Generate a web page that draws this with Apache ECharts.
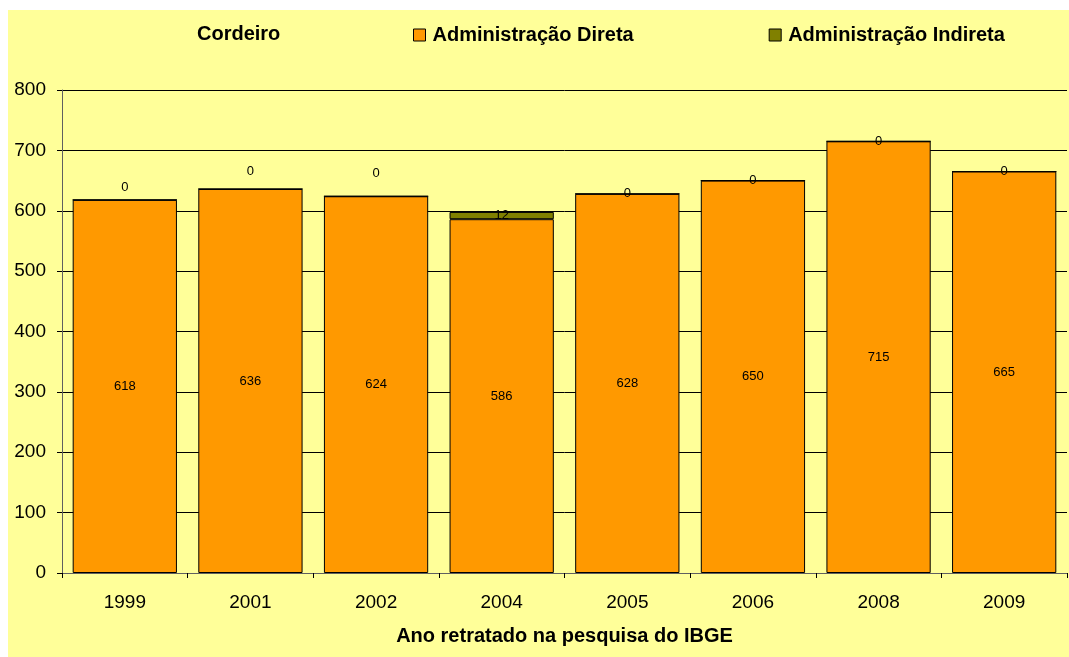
<!DOCTYPE html>
<html>
<head>
<meta charset="utf-8">
<script src="https://cdn.jsdelivr.net/npm/echarts@6/dist/echarts.min.js"></script>
<style>
  html, body { margin: 0; padding: 0; background: #fff; overflow: hidden; }
  #chart { position: absolute; left: 8px; top: 10px; width: 1061px; height: 647px; }
</style>
</head>
<body>
<div id="chart"></div>
<script>
// dados
var years = ['1999', '2001', '2002', '2004', '2005', '2006', '2008', '2009'];
var direta = [618, 636, 624, 586, 628, 650, 715, 665];
var indireta = [0, 0, 0, 12, 0, 0, 0, 0];
var yTicks = [0, 100, 200, 300, 400, 500, 600, 700, 800];

var chart = echarts.init(document.getElementById('chart'));
var font = 'Liberation Sans, Arial, sans-serif';

// deslocamento vertical dos rótulos "0" (como no Excel)
var lift = [-12, -18, -23, 0, 0, 0, 0, 0];

var option = {
  backgroundColor: '#FFFF99',
  animation: false,
  textStyle: { fontFamily: font },
  title: {
    text: 'Cordeiro',
    left: 184,
    top: 9,
    textStyle: { fontSize: 20, fontWeight: 'bold', color: '#000', fontFamily: font }
  },
  legend: {
    left: 400,
    top: 10,
    itemWidth: 12,
    itemHeight: 12,
    itemGap: 135,
    icon: 'rect',
    itemStyle: { borderColor: '#000', borderWidth: 1 },
    textStyle: { fontSize: 20, fontWeight: 'bold', color: '#000', fontFamily: font, padding: [0, 0, 0, 2] },
    data: ['Administração Direta', 'Administração Indireta']
  },
  grid: { left: 54, right: 2, top: 80, bottom: 84 },
  xAxis: {
    type: 'category',
    data: years,
    name: 'Ano retratado na pesquisa do IBGE',
    nameLocation: 'middle',
    nameGap: 53,
    nameTextStyle: { fontSize: 20, fontWeight: 'bold', color: '#000', fontFamily: font },
    axisLine: { lineStyle: { color: '#606060', width: 1 } },
    axisTick: { show: true, length: 5, lineStyle: { color: '#000' } },
    axisLabel: { fontSize: 19, color: '#000', margin: 20, fontFamily: font }
  },
  yAxis: {
    type: 'value',
    min: yTicks[0],
    max: yTicks[yTicks.length - 1],
    interval: 100,
    axisLine: { show: true, lineStyle: { color: '#606060', width: 1 } },
    axisTick: { show: true, length: 5, lineStyle: { color: '#000' } },
    axisLabel: { fontSize: 19, color: '#000', margin: 16, fontFamily: font },
    splitLine: { show: true, lineStyle: { color: '#000', width: 1 } }
  },
  series: [
    {
      name: 'Administração Direta',
      type: 'bar',
      stack: 'total',
      barCategoryGap: '17%',
      data: direta,
      itemStyle: { color: '#FF9900', borderColor: '#000', borderWidth: 1 },
      label: { show: true, position: 'inside', fontSize: 13, color: '#000', fontFamily: font }
    },
    {
      name: 'Administração Indireta',
      type: 'bar',
      stack: 'total',
      data: indireta.map(function (v, i) {
        return { value: v, label: { offset: [0, lift[i]] } };
      }),
      itemStyle: { color: '#808000', borderColor: '#000', borderWidth: 1 },
      label: { show: true, position: 'inside', fontSize: 13, color: '#000', fontFamily: font }
    }
  ]
};
chart.setOption(option);
</script>
</body>
</html>
